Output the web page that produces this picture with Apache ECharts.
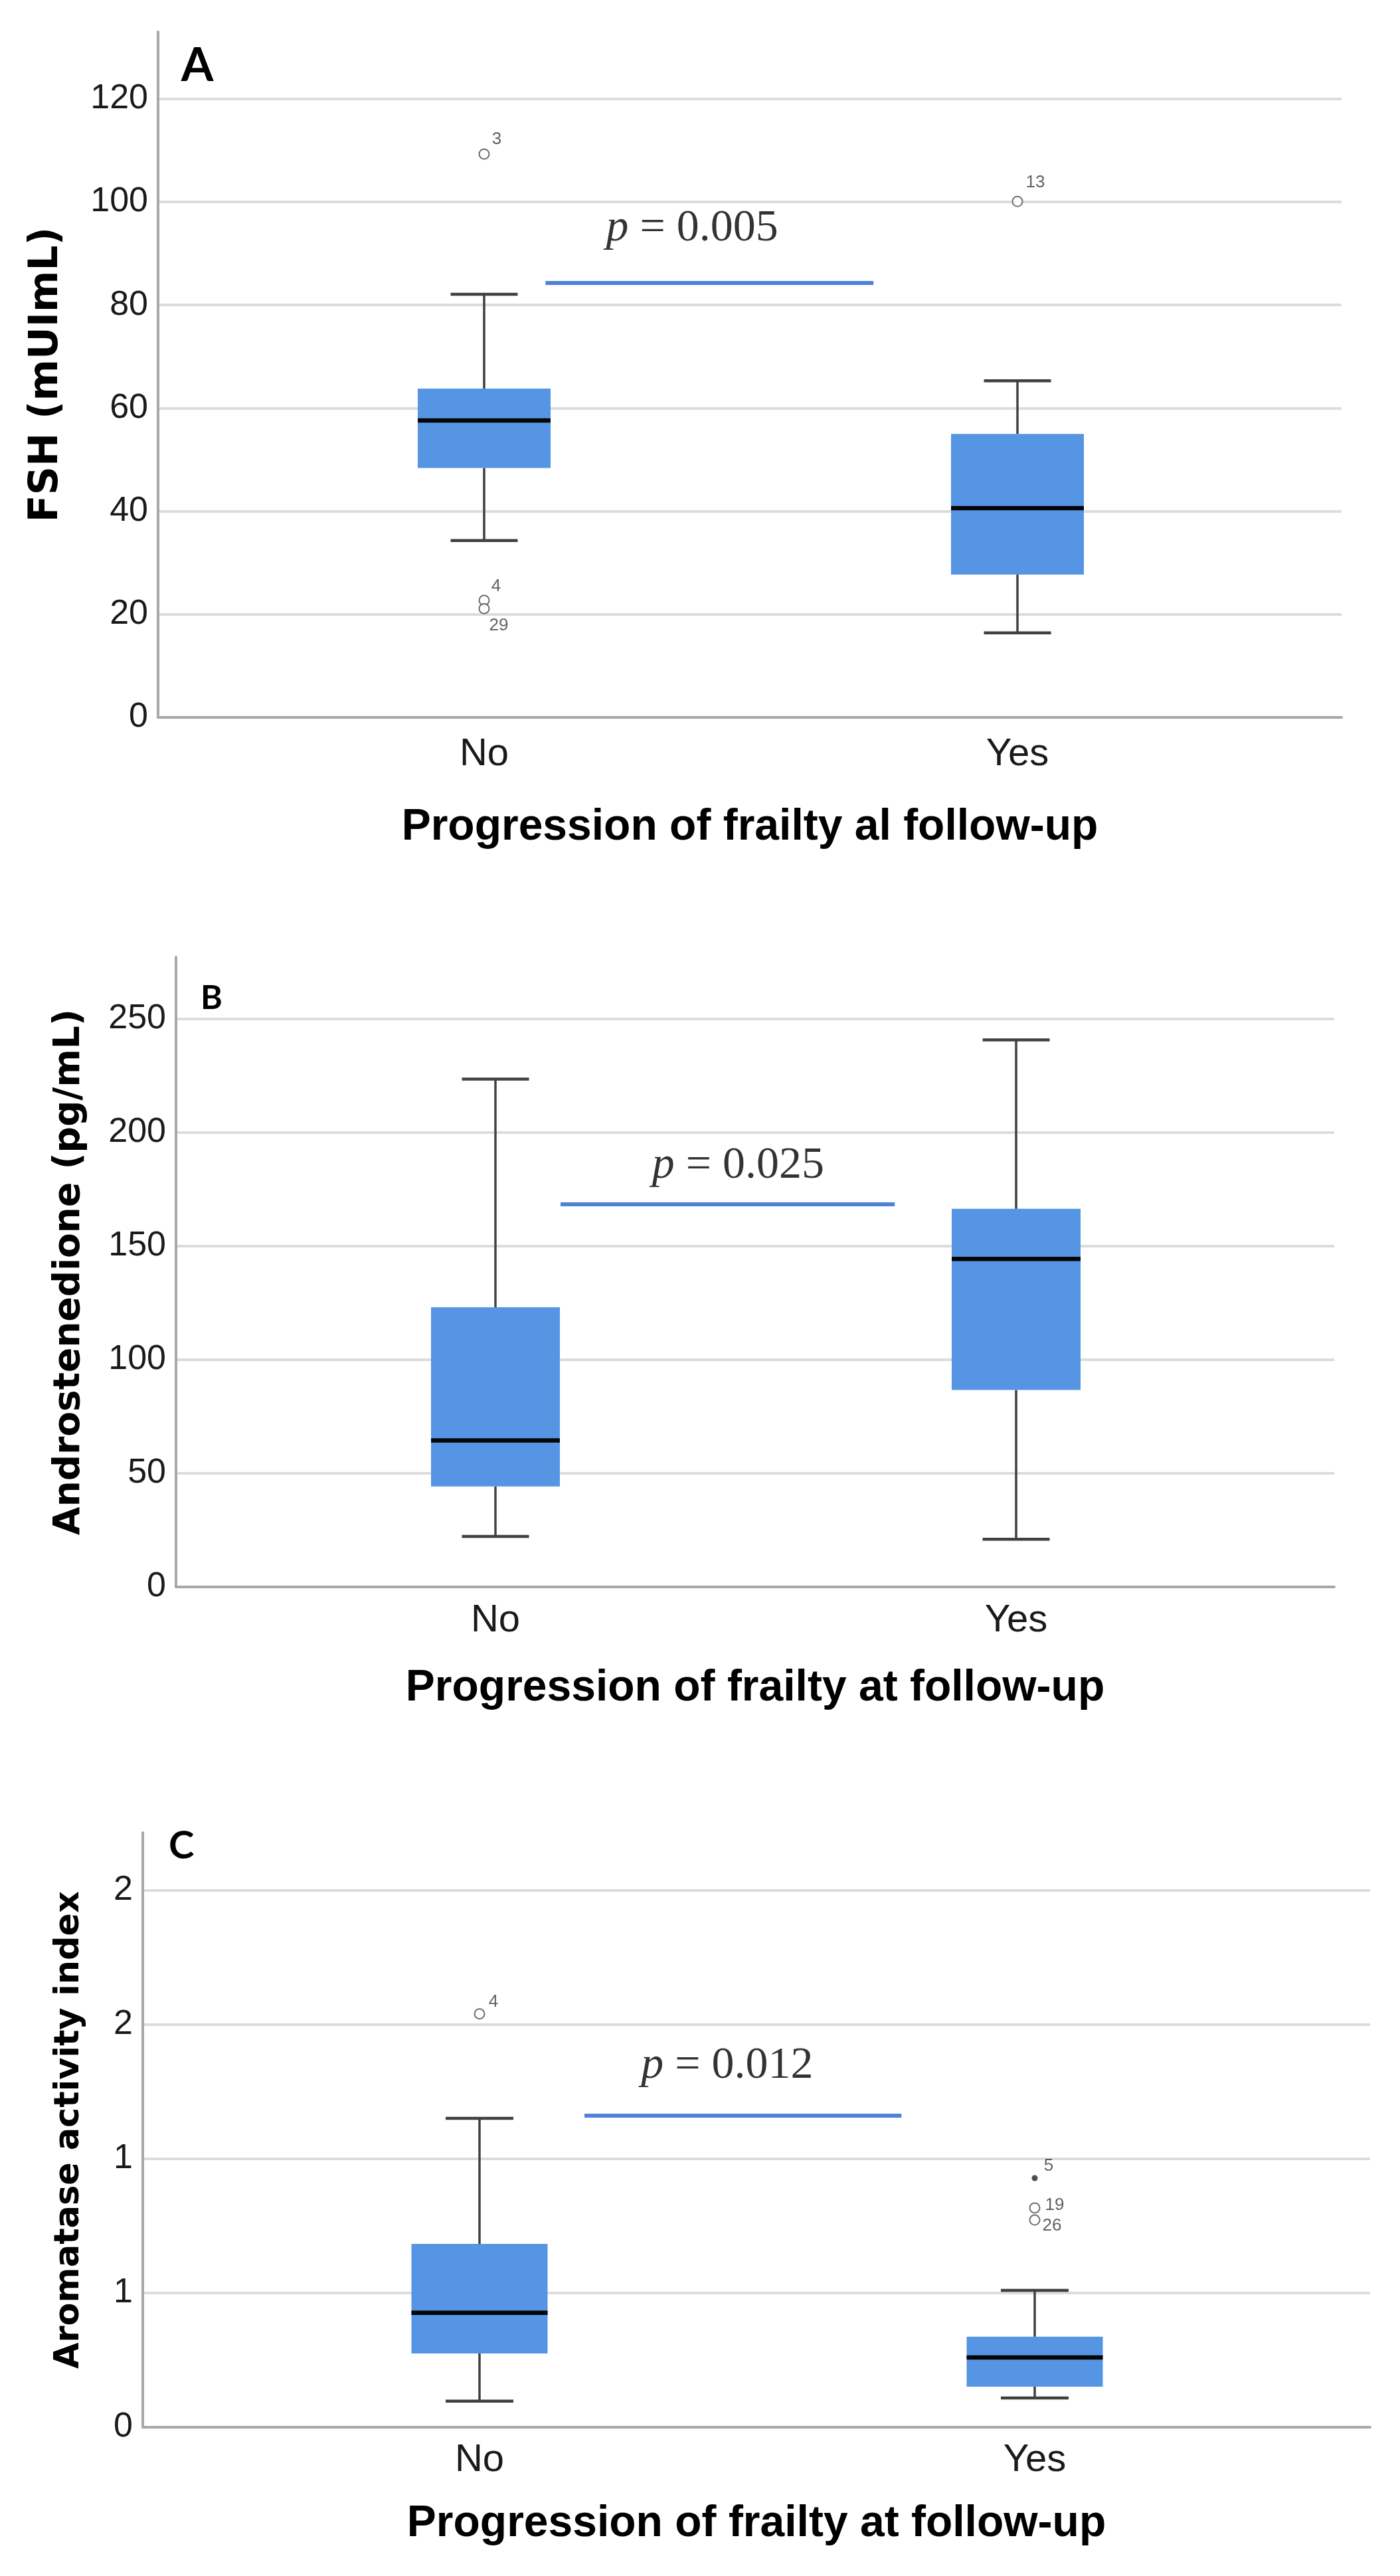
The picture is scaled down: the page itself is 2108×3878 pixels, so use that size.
<!DOCTYPE html>
<html><head><meta charset="utf-8">
<script src="https://cdn.jsdelivr.net/npm/echarts@6/dist/echarts.min.js"></script>
<style>html,body{margin:0;padding:0;background:#fff}#c{width:2108px;height:3878px}</style>
</head><body><div id="c"></div>
<script>
// ---------------- DATA ----------------
const categories = ['No', 'Yes'];
// box stats per group: [min whisker, Q1, median, Q3, max whisker]
const fshStats   = [[34.3, 48.4, 57.6, 63.8, 82.1], [16.4, 27.7, 40.6, 55.0, 65.3]];
const androStats = [[22.2, 44.2, 64.4, 123.0, 223.4], [21.0, 86.6, 144.3, 166.3, 240.6]];
const aromStats  = [[0.097, 0.275, 0.426, 0.683, 1.151], [0.109, 0.151, 0.260, 0.337, 0.510]];
// outliers (group index 1 = No, 2 = Yes)
const fshOutlierX = [1, 1, 1, 2];
const fshOutlierY = [109.3, 22.7, 21.1, 100.1];
const fshOutlierId = ['3', '4', '29', '13'];
const fshOutlierKind = ['o', 'o', 'o', 'o'];
const androOutlierX = [];
const androOutlierY = [];
const androOutlierId = [];
const androOutlierKind = [];
const aromOutlierX = [1, 2, 2, 2];
const aromOutlierY = [1.54, 0.928, 0.817, 0.772];
const aromOutlierId = ['4', '5', '19', '26'];
const aromOutlierKind = ['o', '*', 'o', 'o'];
// significance bars
const pValues = ['0.005', '0.025', '0.012'];
const pBarY  = [84.3, 168.3, 1.161];
const pBarX0 = [1.115, 1.125, 1.189];
const pBarX1 = [1.730, 1.767, 1.760];
const pTextX = [1.39, 1.466, 1.446];
const pTextY = [94.8, 185.3, 1.347];
// axes
const yTicksA = ['0', '20', '40', '60', '80', '100', '120'];
const yTicksB = ['0', '50', '100', '150', '200', '250'];
const yTicksC = ['0', '1', '1', '2', '2'];
const yMaxes = [133, 277, 2.215];
const yIntervals = [20, 50, 0.5];
const yTitles = ['FSH (mUImL)', 'Androstenedione (pg/mL)', 'Aromatase activity index'];
const xTitles = ['Progression of frailty al follow-up', 'Progression of frailty at follow-up', 'Progression of frailty at follow-up'];
const panelLetters = ['A', 'B', 'C'];

// ---------------- LAYOUT / STYLE ----------------
const layout = [
  {L: 238, R: 2020, T: 48,   B: 1080, cNo: 729, cYes: 1532, boxW: 200, capW: 101, yName: 60, yGap: 138, xGap: 133, labM: 27, lx: 298, ly: 99,   ls: 70,
   offs: {'3': [19, -22], '4': [18, -21], '29': [22, 26], '13': [27, -28]}},
  {L: 265, R: 2009, T: 1441, B: 2389, cNo: 746, cYes: 1530, boxW: 194, capW: 101, yName: 55, yGap: 133, xGap: 120, labM: 22, lx: 320, ly: 1503, ls: 50, offs: {}},
  {L: 215, R: 2063, T: 2759, B: 3654, cNo: 722, cYes: 1558, boxW: 205, capW: 102, yName: 51, yGap: 85,  xGap: 113, labM: 21, lx: 275, ly: 2779, ls: 58,
   offs: {'4': [21, -18], '5': [21, -18], '19': [30, -4], '26': [26, 9]}}
];
const statsAll = [fshStats, androStats, aromStats];
const outAll = [
  [fshOutlierX, fshOutlierY, fshOutlierId, fshOutlierKind],
  [androOutlierX, androOutlierY, androOutlierId, androOutlierKind],
  [aromOutlierX, aromOutlierY, aromOutlierId, aromOutlierKind]
];
const yTickSets = [yTicksA, yTicksB, yTicksC];

const BOX = '#5595e3', WHISK = '#404040', MED = '#050505', AXIS = '#a8a8a8', GRID = '#dcdcdc', PBAR = '#5082d6';

const chart = echarts.init(document.getElementById('c'), null, {renderer: 'canvas'});
const grids = [], xAxes = [], yAxes = [], series = [], graphics = [];

layout.forEach((g, i) => {
  const unit = g.cYes - g.cNo;
  const xMin = 1 - (g.cNo - g.L) / unit;
  const xMax = 2 + (g.R - g.cYes) / unit;
  grids.push({left: g.L, top: g.T, width: g.R - g.L, height: g.B - g.T, containLabel: false});
  xAxes.push({
    gridIndex: i, type: 'value', min: xMin, max: xMax, position: 'bottom',
    axisLine: {show: true, onZero: false, lineStyle: {color: AXIS, width: 4}},
    axisTick: {show: false}, splitLine: {show: false},
    axisLabel: {customValues: [1, 2], formatter: v => categories[Math.round(v) - 1] || '',
      fontSize: 58, color: '#1a1a1a', fontFamily: 'Liberation Sans', margin: g.labM},
    name: xTitles[i], nameLocation: 'middle', nameGap: g.xGap,
    nameTextStyle: {fontSize: 66, fontWeight: 'bold', color: '#000', fontFamily: 'Liberation Sans'}
  });
  const ticks = yTickSets[i], itv = yIntervals[i];
  yAxes.push({
    gridIndex: i, type: 'value', min: 0, max: yMaxes[i], interval: itv,
    axisLine: {show: true, onZero: false, lineStyle: {color: AXIS, width: 4}},
    axisTick: {show: false},
    splitLine: {show: true, showMaxLine: false, lineStyle: {color: GRID, width: 4}},
    axisLabel: {showMaxLabel: false, formatter: v => {
        const k = Math.round(v / itv);
        return Math.abs(k * itv - v) < 1e-9 && ticks[k] !== undefined ? ticks[k] : '';
      }, fontSize: 52, color: '#1a1a1a', fontFamily: 'Liberation Sans', margin: 15},
    name: yTitles[i], nameLocation: 'middle', nameGap: g.yGap,
    nameTextStyle: {fontSize: g.yName, fontWeight: 'bold', color: '#000', fontFamily: 'DejaVu Sans'}
  });

  // boxes
  series.push({
    type: 'custom', xAxisIndex: i, yAxisIndex: i, silent: true, z: 5,
    encode: {x: 0, y: [1, 2, 3, 4, 5]},
    data: statsAll[i].map((s, k) => [k + 1].concat(s)),
    renderItem: (params, api) => {
      const x = api.value(0);
      const p = [1, 2, 3, 4, 5].map(d => api.coord([x, api.value(d)]));
      const cx = p[0][0];
      const ls = {stroke: WHISK, lineWidth: 3.5};
      return {type: 'group', children: [
        {type: 'line', shape: {x1: cx, y1: p[0][1], x2: cx, y2: p[1][1]}, style: ls},
        {type: 'line', shape: {x1: cx, y1: p[3][1], x2: cx, y2: p[4][1]}, style: ls},
        {type: 'line', shape: {x1: cx - g.capW / 2, y1: p[0][1], x2: cx + g.capW / 2, y2: p[0][1]}, style: {stroke: WHISK, lineWidth: 4.5}},
        {type: 'line', shape: {x1: cx - g.capW / 2, y1: p[4][1], x2: cx + g.capW / 2, y2: p[4][1]}, style: {stroke: WHISK, lineWidth: 4.5}},
        {type: 'rect', shape: {x: cx - g.boxW / 2, y: p[3][1], width: g.boxW, height: p[1][1] - p[3][1]}, style: {fill: BOX}},
        {type: 'line', shape: {x1: cx - g.boxW / 2, y1: p[2][1], x2: cx + g.boxW / 2, y2: p[2][1]}, style: {stroke: MED, lineWidth: 6.5}}
      ]};
    }
  });

  // outliers
  const [ox, oy, oid, okind] = outAll[i];
  series.push({
    type: 'scatter', xAxisIndex: i, yAxisIndex: i, silent: true, z: 6,
    data: ox.map((x, k) => {
      const star = okind[k] === '*';
      return {
        value: [x, oy[k]], name: oid[k],
        symbol: star ? 'circle' : 'emptyCircle', symbolSize: star ? 9 : 15,
        itemStyle: star ? {color: '#222', borderWidth: 0} : {color: '#4a4a4a', borderColor: '#4a4a4a', borderWidth: 3},
        label: {offset: g.offs[oid[k]] || [20, -20]}
      };
    }),
    label: {show: true, position: 'inside', formatter: '{b}', fontSize: 26, color: '#3a3a3a', fontFamily: 'Liberation Sans'}
  });

  // significance bar
  series.push({
    type: 'line', xAxisIndex: i, yAxisIndex: i, silent: true, z: 4, symbol: 'none',
    data: [[pBarX0[i], pBarY[i]], [pBarX1[i], pBarY[i]]],
    lineStyle: {color: PBAR, width: 6}
  });
  series.push({
    type: 'scatter', xAxisIndex: i, yAxisIndex: i, silent: true, z: 7, symbolSize: 1,
    itemStyle: {color: 'rgba(0,0,0,0)'},
    data: [[pTextX[i], pTextY[i]]],
    label: {show: true, position: 'inside', formatter: '{i|p} = ' + pValues[i],
      fontSize: 68, color: '#000', fontFamily: 'Liberation Serif',
      rich: {i: {fontStyle: 'italic', fontSize: 68, fontFamily: 'Liberation Serif', color: '#000'}}}
  });

  graphics.push({type: 'text', left: g.lx - g.ls * 0.36, top: g.ly - g.ls * 0.5, z: 10,
    style: {text: panelLetters[i], fontSize: g.ls, fontWeight: 'bold', fontFamily: 'Lato', fill: '#000'}});
});

chart.setOption({
  animation: false,
  backgroundColor: '#ffffff',
  grid: grids, xAxis: xAxes, yAxis: yAxes, series: series, graphic: graphics
});
</script>
</body></html>
